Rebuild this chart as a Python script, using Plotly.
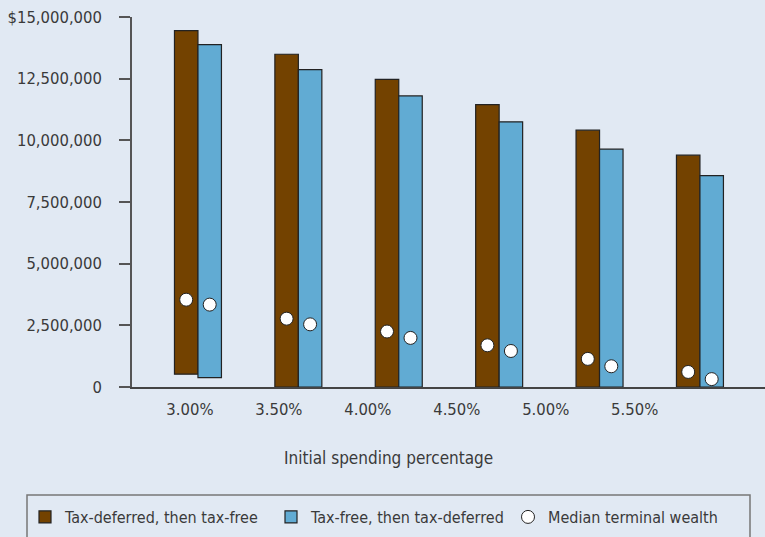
import plotly.graph_objects as go

categories = ["3.00%", "3.50%", "4.00%", "4.50%", "5.00%", "5.50%"]
deferred_high = [14.45e6, 13.49e6, 12.47e6, 11.45e6, 10.41e6, 9.40e6]
deferred_low = [0.52e6, 0, 0, 0, 0, 0]
free_high = [13.88e6, 12.87e6, 11.80e6, 10.75e6, 9.64e6, 8.57e6]
free_low = [0.38e6, 0, 0, 0, 0, 0]
deferred_median = [3.54e6, 2.77e6, 2.25e6, 1.69e6, 1.14e6, 0.61e6]
free_median = [3.34e6, 2.54e6, 1.99e6, 1.46e6, 0.84e6, 0.32e6]
y_tickvals = [0, 2.5e6, 5e6, 7.5e6, 10e6, 12.5e6, 15e6]
y_ticktext = ["0", "2,500,000", "5,000,000", "7,500,000", "10,000,000", "12,500,000", "$15,000,000"]

BROWN = "#734200"
BLUE = "#61abd3"
BG = "#e1e9f3"
TXT = "#3a3a3a"
FONT = "DejaVu Sans Condensed, sans-serif"
TICK_SIZE = 16.5
LEG_SIZE = 16

bar_w = 0.234
idx = list(range(len(categories)))
label_pos = [-0.08 + 0.886 * i for i in idx]

fig = go.Figure()
fig.add_trace(go.Bar(
    x=[i - bar_w / 2 for i in idx], y=[h - l for h, l in zip(deferred_high, deferred_low)],
    base=deferred_low, width=bar_w, name="Tax-deferred, then tax-free", legend="legend",
    marker=dict(color=BROWN, line=dict(color="#222222", width=1.2)),
))
fig.add_trace(go.Bar(
    x=[i + bar_w / 2 for i in idx], y=[h - l for h, l in zip(free_high, free_low)],
    base=free_low, width=bar_w, name="Tax-free, then tax-deferred", legend="legend2",
    marker=dict(color=BLUE, line=dict(color="#222222", width=1.2)),
))
fig.add_trace(go.Scatter(
    x=[i - bar_w / 2 for i in idx], y=deferred_median, mode="markers",
    name="Median terminal wealth", showlegend=True, legend="legend3",
    marker=dict(color="white", size=13, line=dict(color="#222222", width=1)),
))
fig.add_trace(go.Scatter(
    x=[i + bar_w / 2 for i in idx], y=free_median, mode="markers",
    name="Median terminal wealth", showlegend=False, legend="legend3",
    marker=dict(color="white", size=13, line=dict(color="#222222", width=1)),
))

def leg(xpix):
    return dict(
        orientation="h", xref="container", yref="container",
        x=xpix / 765, y=1 - 517 / 537, xanchor="left", yanchor="middle",
        bgcolor="rgba(0,0,0,0)", borderwidth=0, itemwidth=30,
        font=dict(size=LEG_SIZE, color=TXT),
    )

fig.update_layout(
    width=765, height=537,
    margin=dict(l=132, r=0, t=17, b=150),
    paper_bgcolor=BG, plot_bgcolor=BG,
    font=dict(family=FONT, size=TICK_SIZE, color=TXT),
    barmode="overlay",
    showlegend=True,
    legend=leg(25), legend2=leg(271), legend3=leg(508),
    xaxis=dict(
        range=[-0.657, 5.648], tickmode="array", tickvals=label_pos, ticktext=categories,
        showgrid=False, zeroline=False, showline=True, linecolor="#444444", linewidth=1.5,
        ticks="", ticklabelstandoff=6, tickfont=dict(size=TICK_SIZE, color=TXT),
    ),
    yaxis=dict(
        range=[0, 15e6], tickmode="array", tickvals=y_tickvals, ticktext=y_ticktext,
        showgrid=False, zeroline=False, showline=True, linecolor="#555555", linewidth=1.5,
        ticks="outside", ticklen=11, tickwidth=1.5, tickcolor="#555555",
        ticklabelstandoff=14, tickfont=dict(size=TICK_SIZE, color=TXT),
    ),
    annotations=[dict(
        text="Initial spending percentage", xref="paper", yref="paper",
        x=(388 - 132) / 633, y=(387 - 458) / 370, xanchor="center", yanchor="middle",
        showarrow=False, font=dict(size=17, color=TXT),
    )],
    shapes=[dict(
        type="rect", xref="paper", yref="paper",
        x0=(27 - 132) / 633, x1=(750 - 132) / 633,
        y0=(387 - 495) / 370, y1=(387 - 560) / 370,
        line=dict(color="#777777", width=1.5), fillcolor="rgba(0,0,0,0)", layer="below",
    )],
)

fig.write_html("out.html")
